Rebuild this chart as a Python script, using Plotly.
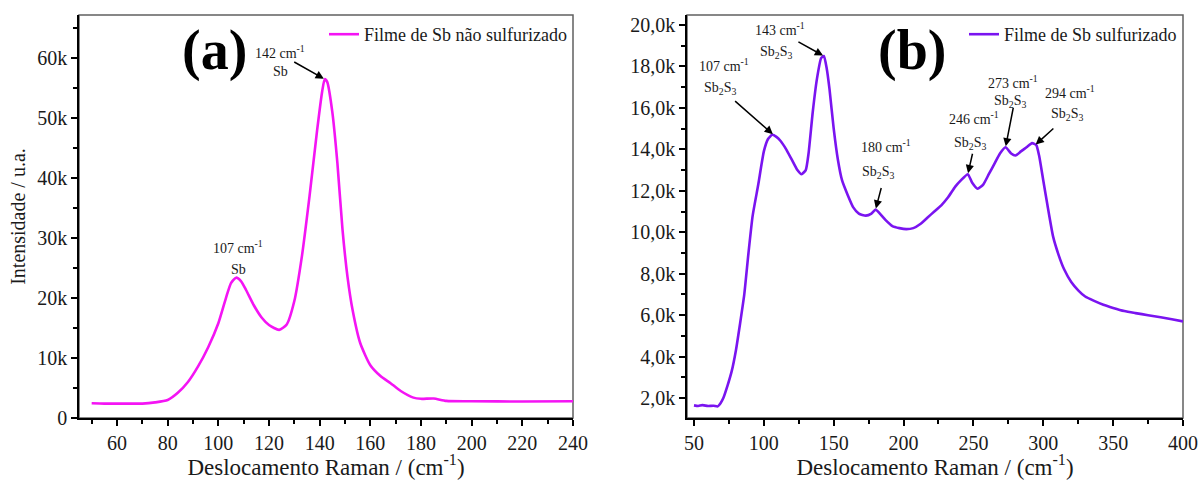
import plotly.graph_objects as go

# Espectro Raman do filme de Sb não sulfurizado (cm^-1, intensidade em k contagens)
shift_a = [50, 55, 60, 65, 70, 75, 80, 84, 88, 92, 96, 100, 103, 105, 107, 109, 111,
           114, 117, 120, 124, 127, 130, 133, 136, 139, 141, 142, 143, 145, 147, 149,
           151, 153, 156, 160, 164, 168, 172, 177, 180, 185, 190, 200, 220, 240]
int_a = [2.45, 2.4, 2.4, 2.4, 2.4, 2.6, 3.0, 4.2, 6.0, 8.6, 11.8, 15.8, 20.0, 22.5, 23.4,
         22.8, 21.3, 18.8, 16.8, 15.5, 14.7, 15.6, 19.5, 27.0, 37.0, 48.0, 54.5, 56.5,
         56.0, 51.0, 42.5, 31.5, 23.5, 18.0, 12.5, 8.8, 7.0, 5.8, 4.5, 3.4, 3.2, 3.25,
         2.85, 2.8, 2.75, 2.8]

# Espectro Raman do filme de Sb sulfurizado
shift_b = [50, 53, 56, 60, 64, 67, 69, 71, 74, 77, 80, 83, 86, 89, 92, 96, 100, 103, 106,
           109, 112, 116, 120, 124, 127, 130, 132, 135, 138, 141, 143, 145, 147, 150, 153,
           156, 160, 164, 168, 173, 177, 180, 183, 187, 192, 197, 202, 207, 212, 217, 222,
           227, 232, 237, 241, 246, 249, 253, 257, 261, 265, 269, 273, 277, 280, 284, 288,
           292, 295, 297, 300, 303, 307, 311, 315, 320, 325, 330, 336, 343, 350, 358, 366,
           375, 384, 392, 400]
int_b = [1.65, 1.62, 1.66, 1.62, 1.63, 1.6, 1.75, 2.0, 2.6, 3.3, 4.3, 5.6, 7.0, 9.0, 10.8,
         12.3, 13.9, 14.5, 14.7, 14.6, 14.4, 14.0, 13.5, 13.0, 12.8, 13.0, 13.8, 15.8, 17.4,
         18.4, 18.5, 17.9, 16.9, 15.0, 13.5, 12.5, 11.8, 11.2, 10.9, 10.8, 10.9, 11.1, 10.9,
         10.6, 10.3, 10.2, 10.15, 10.2, 10.4, 10.7, 11.0, 11.3, 11.7, 12.2, 12.5, 12.8, 12.4,
         12.1, 12.3, 12.8, 13.3, 13.8, 14.1, 13.8, 13.7, 13.9, 14.1, 14.3, 14.2, 13.7, 12.5,
         11.3, 9.8, 8.9, 8.2, 7.6, 7.2, 6.9, 6.7, 6.5, 6.35, 6.2, 6.1, 6.0, 5.9, 5.8, 5.7]

name_a = "Filme de Sb não sulfurizado"
name_b = "Filme de Sb sulfurizado"

# Picos identificados
peaks_a = [107, 142]
phase_a = ["Sb", "Sb"]
peaks_b = [107, 143, 180, 246, 273, 294]
phase_b = ["Sb<sub>2</sub>S<sub>3</sub>"] * 6

# Eixos
xticks_a = [60, 80, 100, 120, 140, 160, 180, 200, 220, 240]
yticks_a = [0, 10, 20, 30, 40, 50, 60]
ytext_a = ["0", "10k", "20k", "30k", "40k", "50k", "60k"]
xticks_b = [50, 100, 150, 200, 250, 300, 350, 400]
yticks_b = [2, 4, 6, 8, 10, 12, 14, 16, 18, 20]
ytext_b = ["2,0k", "4,0k", "6,0k", "8,0k", "10,0k", "12,0k", "14,0k", "16,0k", "18,0k", "20,0k"]

x_title = "Deslocamento Raman / (cm<sup>-1</sup>)"
y_title = "Intensidade / u.a."

W, H = 1201, 480
FONT = "Liberation Serif"
INK = "#1a1a1a"

fig = go.Figure()
fig.add_trace(go.Scatter(x=shift_a, y=int_a, mode="lines", name=name_a,
                         line=dict(color="#f414f4", width=2.6, shape="spline", smoothing=0.6),
                         xaxis="x", yaxis="y", legend="legend"))
fig.add_trace(go.Scatter(x=shift_b, y=int_b, mode="lines", name=name_b,
                         line=dict(color="#7a14f0", width=2.6, shape="spline", smoothing=0.5),
                         xaxis="x2", yaxis="y2", legend="legend2"))

def axis_style(**kw):
    base = dict(showgrid=False, zeroline=False, showline=True, linecolor="black", linewidth=1.5,
                ticks="outside", ticklen=6, tickwidth=1.5, tickcolor="black", automargin=False,
                tickfont=dict(family=FONT, size=20, color=INK), mirror=False)
    base.update(kw)
    return base

dom_a = [79 / W, 573 / W]
dom_b = [687 / W, 1183 / W]
dom_y = [62 / H, 465 / H]

fig.update_layout(
    width=W, height=H, margin=dict(l=0, r=0, t=0, b=0, autoexpand=False),
    paper_bgcolor="white", plot_bgcolor="white",
    font=dict(family=FONT, color=INK),
    xaxis=axis_style(domain=dom_a, range=[45, 240], tickvals=xticks_a, anchor="y",
                     minor=dict(ticks="outside", ticklen=4, tickwidth=1.5, tickcolor="black", dtick=10, tick0=0),
                     title=dict(text=x_title, font=dict(family=FONT, size=23, color=INK), standoff=4)),
    yaxis=axis_style(domain=dom_y, range=[0, 67.2], tickvals=yticks_a, ticktext=ytext_a, anchor="x",
                     minor=dict(ticks="outside", ticklen=4, tickwidth=1.5, tickcolor="black", dtick=5, tick0=0),
                     title=dict(text=y_title, font=dict(family=FONT, size=20, color=INK), standoff=6)),
    xaxis2=axis_style(domain=dom_b, range=[45, 400], tickvals=xticks_b, anchor="y2",
                      minor=dict(ticks="outside", ticklen=4, tickwidth=1.5, tickcolor="black", dtick=25, tick0=0),
                      title=dict(text=x_title, font=dict(family=FONT, size=23, color=INK), standoff=4)),
    yaxis2=axis_style(domain=dom_y, range=[1.04, 20.48], tickvals=yticks_b, ticktext=ytext_b, anchor="x2",
                      minor=dict(ticks="outside", ticklen=4, tickwidth=1.5, tickcolor="black", dtick=1, tick0=0)),
    legend=dict(x=572 / W, xanchor="right", y=1 - 16 / H, yanchor="top", bgcolor="rgba(0,0,0,0)",
                font=dict(family=FONT, size=18, color=INK)),
    legend2=dict(x=1182 / W, xanchor="right", y=1 - 16 / H, yanchor="top", bgcolor="rgba(0,0,0,0)",
                 font=dict(family=FONT, size=18, color=INK)),
    showlegend=True,
)

# Moldura cinza (topo e direita)
for xr, yr in [("x", "y"), ("x2", "y2")]:
    fig.add_shape(type="rect", xref=f"{xr} domain", yref=f"{yr} domain", x0=0, x1=1, y0=0, y1=1,
                  line=dict(color="#606060", width=1.5), layer="below")

# Letras dos painéis
fig.add_annotation(text="<b>(a)</b>", xref="x domain", yref="y domain", x=0.275, y=0.913,
                   xanchor="center", yanchor="middle",
                   showarrow=False, font=dict(family=FONT, size=56, color="black"))
fig.add_annotation(text="<b>(b)</b>", xref="x2 domain", yref="y2 domain", x=0.454, y=0.913,
                   xanchor="center", yanchor="middle",
                   showarrow=False, font=dict(family=FONT, size=56, color="black"))

def value_at(xs, ys, x0):
    return ys[min(range(len(xs)), key=lambda i: abs(xs[i] - x0))]

lbl_font = dict(family=FONT, size=14, color=INK)

def peak_label(xr, yr, xs, ys, pk, phase, top_off, sub_off, arrow=None):
    yv = value_at(xs, ys, pk)
    fig.add_annotation(x=pk, y=yv, xref=xr, yref=yr, showarrow=False,
                       text=f"{pk} cm<sup>-1</sup>", font=lbl_font,
                       xshift=top_off[0], yshift=top_off[1])
    fig.add_annotation(x=pk, y=yv, xref=xr, yref=yr, showarrow=False,
                       text=phase, font=lbl_font,
                       xshift=sub_off[0], yshift=sub_off[1])
    if arrow is not None:
        ax, ay = arrow
        fig.add_annotation(x=pk, y=yv, xref=xr, yref=yr, text="", showarrow=True,
                           ax=ax, ay=ay, arrowhead=2, arrowsize=1.1, arrowwidth=1.5,
                           arrowcolor="black", standoff=1)

# (a)
peak_label("x", "y", shift_a, int_a, peaks_a[0], phase_a[0], (2, 31), (2, 8))
peak_label("x", "y", shift_a, int_a, peaks_a[1], phase_a[1], (-45, 27), (-44, 8), arrow=(-32, -18))

# (b)
tops_b = [(-50, 70), (-44, 27), (10, 63), (6, 56), (7, 65), (35, 53)]
subs_b = [(-53, 46), (-47, 4), (3, 37), (3, 31), (5, 46), (33, 31)]
arrows_b = [(-40, -35), (-27, -15), (6, -23), (5, -22), (8, -41), (20, -18)]
for pk, ph, t, s, arr in zip(peaks_b, phase_b, tops_b, subs_b, arrows_b):
    peak_label("x2", "y2", shift_b, int_b, pk, ph, t, s, arrow=arr)

fig.write_html("out.html")
